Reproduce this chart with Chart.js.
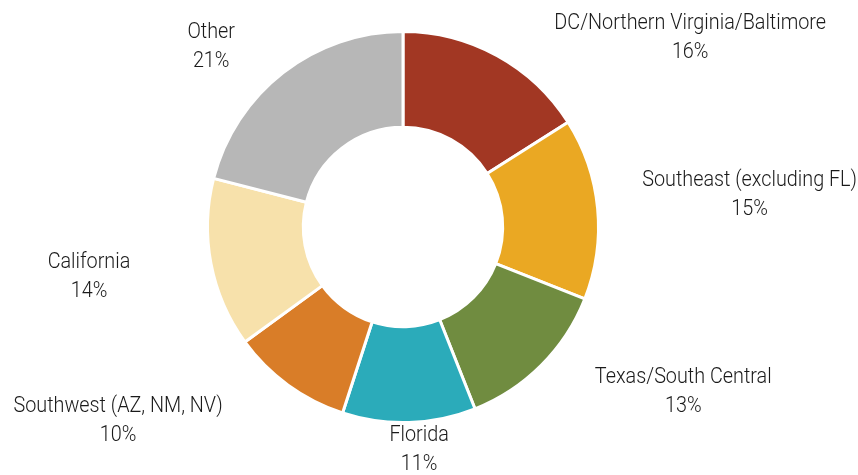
<!DOCTYPE html>
<html>
<head>
<meta charset="utf-8">
<script src="https://cdn.jsdelivr.net/npm/chart.js@4.4.1/dist/chart.umd.min.js"></script>
<style>
  html, body { margin: 0; padding: 0; background: #fff; }
  #wrap { width: 858px; height: 475px; }
</style>
</head>
<body>
<div id="wrap"><canvas id="donut"></canvas></div>
<script>
// regions and their shares (%)
var regions = ['DC/Northern Virginia/Baltimore', 'Southeast (excluding FL)', 'Texas/South Central',
               'Florida', 'Southwest (AZ, NM, NV)', 'California', 'Other'];
var shares = [16, 15, 13, 11, 10, 14, 21];

var sliceColors = ['#A23723', '#EAA823', '#708C40', '#2BABBA', '#D97D28', '#F7E1AB', '#B7B7B7'];
// label shift (px) from the outer middle point of each slice
var labelShift = [[193, -18], [152, -14], [142, 27], [10, 28], [-170, 36], [-122, 13], [-72, -26]];

var outsideLabels = {
  id: 'outsideLabels',
  afterDatasetsDraw: function(chart) {
    var ctx = chart.ctx;
    var arcs = chart.getDatasetMeta(0).data;
    ctx.save();
    ctx.font = '300 22px "Roboto", sans-serif';
    ctx.fillStyle = '#1a1a1a';
    ctx.textAlign = 'center';
    ctx.textBaseline = 'middle';
    arcs.forEach(function(arc, i) {
      var p = arc.getProps(['x', 'y', 'startAngle', 'endAngle', 'outerRadius'], true);
      var mid = (p.startAngle + p.endAngle) / 2;
      var ax = p.x + Math.cos(mid) * p.outerRadius + labelShift[i][0];
      var ay = p.y + Math.sin(mid) * p.outerRadius + labelShift[i][1];
      // squeeze text horizontally to mimic a condensed face
      ctx.save();
      ctx.translate(ax, ay);
      ctx.scale(0.9, 1);
      ctx.fillText(regions[i], 0, -14.5);
      ctx.fillText(shares[i] + '%', 0, 14.5);
      ctx.restore();
    });
    ctx.restore();
  }
};

new Chart(document.getElementById('donut'), {
  type: 'doughnut',
  data: {
    labels: regions,
    datasets: [{
      data: shares,
      backgroundColor: sliceColors,
      borderColor: '#fff',
      borderWidth: 3
    }]
  },
  options: {
    responsive: true,
    maintainAspectRatio: false,
    animation: false,
    cutout: '51%',
    layout: { padding: { top: 30, bottom: 51, left: 0, right: 52 } },
    plugins: {
      legend: { display: false },
      tooltip: { enabled: false }
    }
  },
  plugins: [outsideLabels]
});
</script>
</body>
</html>
